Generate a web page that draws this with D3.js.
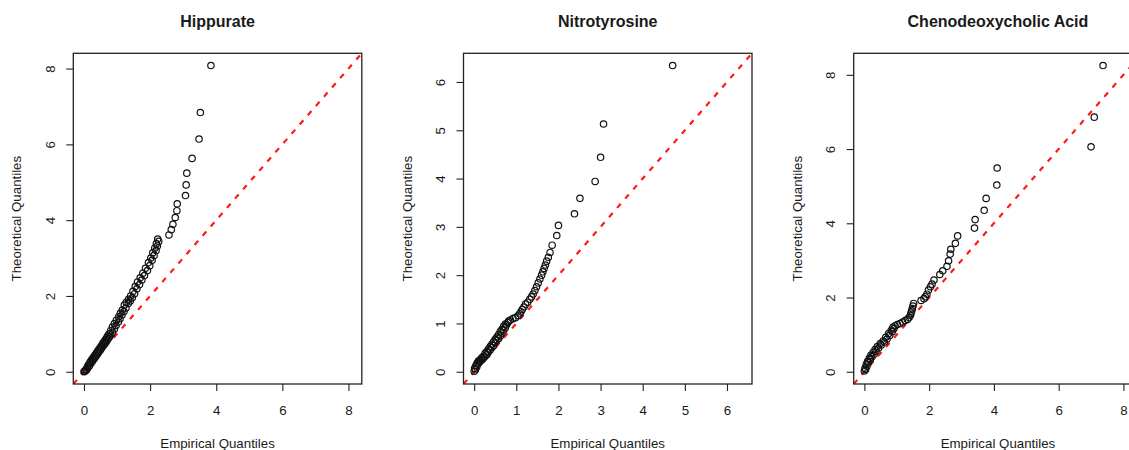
<!DOCTYPE html>
<html>
<head>
<meta charset="utf-8">
<script src="https://cdn.jsdelivr.net/npm/d3@7"></script>
<style>
  body { margin: 0; background: #fff; }
  svg { display: block; }
  text { font-family: "Liberation Sans", Arial, sans-serif; fill: #1a1a1a; }
</style>
</head>
<body>
<svg id="chart" width="1129" height="450"></svg>
<script>
// 面板标题
const titles = ['Hippurate', 'Nitrotyrosine', 'Chenodeoxycholic Acid'];

// Hippurate: empirical (x) / theoretical (y)
const hippurateEmp = [0.00,0.03,0.02,0.07,0.06,0.11,0.10,0.16,0.13,0.20,0.18,0.25,0.22,0.29,0.26,0.33,0.30,0.37,0.34,0.41,
  0.38,0.45,0.42,0.49,0.46,0.53,0.50,0.57,0.54,0.61,0.57,0.65,0.61,0.69,0.65,0.73,0.69,0.77,0.72,0.81,
  0.76,0.86,0.81,0.92,0.86,0.97,0.92,1.04,0.98,1.09,1.05,1.15,1.10,1.21,1.16,1.27,1.22,1.34,1.28,1.40,
  1.35,1.46,1.41,1.53,1.48,1.60,1.55,1.68,1.62,1.75,1.70,1.83,1.78,1.92,1.86,1.99,1.95,2.06,2.02,2.12,
  2.08,2.18,2.14,2.22,2.19,2.26,2.23,
  2.57,2.64,2.69,2.76,2.81,2.82,3.07,3.09,3.11,3.27,3.48,3.52,3.84];
const hippurateTheo = [0.00,0.01,0.02,0.04,0.06,0.09,0.12,0.15,0.18,0.21,0.25,0.27,0.30,0.32,0.35,0.37,0.40,0.42,0.45,0.47,
  0.50,0.52,0.55,0.57,0.60,0.62,0.65,0.67,0.70,0.72,0.75,0.77,0.80,0.82,0.85,0.87,0.90,0.92,0.95,0.97,
  1.00,1.04,1.09,1.13,1.18,1.22,1.27,1.31,1.36,1.40,1.45,1.50,1.54,1.59,1.63,1.68,1.76,1.80,1.83,1.87,
  1.91,1.95,2.00,2.06,2.12,2.19,2.25,2.30,2.37,2.42,2.48,2.54,2.60,2.67,2.73,2.80,2.88,2.94,3.00,3.07,
  3.14,3.20,3.26,3.32,3.38,3.44,3.50,
  3.61,3.75,3.89,4.07,4.25,4.43,4.65,4.93,5.24,5.63,6.14,6.84,8.08];

// Nitrotyrosine
const nitroEmp = [0.00,0.03,0.01,0.06,0.04,0.09,0.07,0.13,0.10,0.17,0.14,0.21,0.18,0.25,0.22,0.30,0.26,0.33,0.30,0.38,
  0.34,0.42,0.38,0.46,0.42,0.50,0.46,0.54,0.50,0.58,0.54,0.62,0.58,0.66,0.62,0.70,0.66,0.74,0.70,0.77,
  0.74,0.80,0.82,0.86,0.92,0.98,1.04,1.08,1.11,1.14,1.18,1.22,1.27,1.32,1.36,1.40,1.44,1.48,1.52,1.56,
  1.60,1.63,1.66,1.69,1.72,1.76,1.80,1.85,
  1.96,2.00,2.38,2.51,2.87,3.00,3.07,4.71];
const nitroTheo = [0.01,0.04,0.07,0.10,0.13,0.16,0.18,0.20,0.22,0.24,0.25,0.27,0.29,0.31,0.32,0.35,0.38,0.40,0.42,0.45,
  0.47,0.50,0.52,0.54,0.57,0.60,0.62,0.65,0.67,0.69,0.72,0.74,0.77,0.80,0.83,0.86,0.88,0.91,0.94,0.97,
  0.99,1.02,1.05,1.07,1.10,1.12,1.16,1.20,1.24,1.29,1.34,1.40,1.44,1.50,1.55,1.61,1.68,1.76,1.84,1.92,
  2.00,2.07,2.14,2.21,2.29,2.37,2.47,2.62,
  2.82,3.03,3.27,3.59,3.94,4.44,5.13,6.34];

// Chenodeoxycholic Acid
const chenoEmp = [0.00,0.04,0.02,0.08,0.06,0.12,0.10,0.18,0.15,0.23,0.20,0.30,0.27,0.36,0.33,0.44,0.40,0.52,0.49,0.62,
  0.58,0.70,0.66,0.78,0.75,0.86,0.83,0.91,0.88,0.95,1.02,1.10,1.18,1.26,1.33,1.38,1.42,1.44,1.46,1.48,
  1.50,1.52,1.75,1.84,1.88,1.93,1.98,2.04,2.09,2.15,2.33,2.42,2.55,2.60,2.65,2.67,2.81,2.88,
  3.40,3.42,3.70,3.76,4.09,4.10,7.00,7.10,7.37];
const chenoTheo = [0.02,0.06,0.10,0.15,0.20,0.24,0.28,0.32,0.36,0.40,0.44,0.47,0.52,0.56,0.60,0.64,0.68,0.72,0.76,0.80,
  0.83,0.88,0.93,0.98,1.03,1.08,1.12,1.16,1.20,1.24,1.27,1.30,1.34,1.38,1.41,1.46,1.52,1.58,1.64,1.70,
  1.77,1.84,1.92,1.97,2.02,2.09,2.20,2.29,2.36,2.47,2.62,2.72,2.84,2.99,3.17,3.30,3.46,3.66,
  3.87,4.10,4.35,4.67,5.03,5.49,6.06,6.86,8.25];

// 刻度
const hippurateTicks = [0, 2, 4, 6, 8];
const nitroTicks = [0, 1, 2, 3, 4, 5, 6];
const chenoTicks = [0, 2, 4, 6, 8];

const panels = [
  { title: titles[0], emp: hippurateEmp, theo: hippurateTheo, ticks: hippurateTicks },
  { title: titles[1], emp: nitroEmp, theo: nitroTheo, ticks: nitroTicks },
  { title: titles[2], emp: chenoEmp, theo: chenoTheo, ticks: chenoTicks }
];

const svg = d3.select('#chart');
svg.append('rect').attr('width', 1129).attr('height', 450).attr('fill', '#fff');

const panelW = 390.2;
const marginL = 73.3;
const plotW = 288.5;
const plotTop = 53.3;
const plotBottom = 384;

panels.forEach((p, i) => {
  const g = svg.append('g').attr('transform', `translate(${i * panelW},0)`);

  // R 风格：两轴共用范围，并各向外扩展 4%
  const all = p.emp.concat(p.theo);
  const lo = Math.min(0, d3.min(all));
  const hi = d3.max(all);
  const pad = (hi - lo) * 0.04;

  const x = d3.scaleLinear().domain([lo - pad, hi + pad]).range([marginL, marginL + plotW]);
  const y = d3.scaleLinear().domain([lo - pad, hi + pad]).range([plotBottom, plotTop]);

  g.append('clipPath').attr('id', `clip-${i}`)
    .append('rect')
    .attr('x', marginL).attr('y', plotTop)
    .attr('width', plotW).attr('height', plotBottom - plotTop);

  // 参考线 y = x
  g.append('line')
    .attr('clip-path', `url(#clip-${i})`)
    .attr('x1', x(lo - pad)).attr('y1', y(lo - pad))
    .attr('x2', x(hi + pad)).attr('y2', y(hi + pad))
    .attr('stroke', '#ff1a1a')
    .attr('stroke-width', 2.2)
    .attr('stroke-dasharray', '5.5,6.8');

  // 散点
  g.append('g')
    .selectAll('circle')
    .data(p.emp.map((v, k) => [v, p.theo[k]]))
    .join('circle')
    .attr('cx', d => x(d[0]))
    .attr('cy', d => y(d[1]))
    .attr('r', 3.2)
    .attr('fill', 'none')
    .attr('stroke', '#111')
    .attr('stroke-width', 1.2);

  // 边框
  g.append('rect')
    .attr('x', marginL).attr('y', plotTop)
    .attr('width', plotW).attr('height', plotBottom - plotTop)
    .attr('fill', 'none')
    .attr('stroke', '#222')
    .attr('stroke-width', 1.3);

  // x 轴
  const xAxis = g.append('g')
    .attr('transform', `translate(0,${plotBottom})`)
    .call(d3.axisBottom(x).tickValues(p.ticks).tickSize(7).tickPadding(14.4).tickFormat(d3.format('d')));
  xAxis.select('.domain').remove();
  xAxis.selectAll('line').attr('stroke', '#222').attr('stroke-width', 1.1);
  xAxis.selectAll('text').attr('font-size', 13.3).attr('font-family', null).attr('fill', '#1a1a1a');

  // y 轴（标签平行于轴）
  const yAxis = g.append('g')
    .attr('transform', `translate(${marginL},0)`)
    .call(d3.axisLeft(y).tickValues(p.ticks).tickSize(7).tickFormat(d3.format('d')));
  yAxis.select('.domain').remove();
  yAxis.selectAll('line').attr('stroke', '#222').attr('stroke-width', 1.1);
  yAxis.selectAll('text')
    .attr('x', null).attr('dy', null)
    .attr('text-anchor', 'middle')
    .attr('transform', 'translate(-18.6,0) rotate(-90)')
    .attr('font-size', 13.3).attr('font-family', null).attr('fill', '#1a1a1a');

  // 标题与轴标题
  g.append('text')
    .attr('x', marginL + plotW / 2).attr('y', 26.7)
    .attr('text-anchor', 'middle')
    .attr('font-size', 16).attr('font-weight', 'bold')
    .attr('fill', '#111')
    .text(p.title);

  g.append('text')
    .attr('x', marginL + plotW / 2).attr('y', 448)
    .attr('text-anchor', 'middle')
    .attr('font-size', 13.3)
    .text('Empirical Quantiles');

  g.append('text')
    .attr('transform', `translate(${marginL - 52},${(plotTop + plotBottom) / 2}) rotate(-90)`)
    .attr('text-anchor', 'middle')
    .attr('font-size', 13.3)
    .text('Theoretical Quantiles');
});
</script>
</body>
</html>
